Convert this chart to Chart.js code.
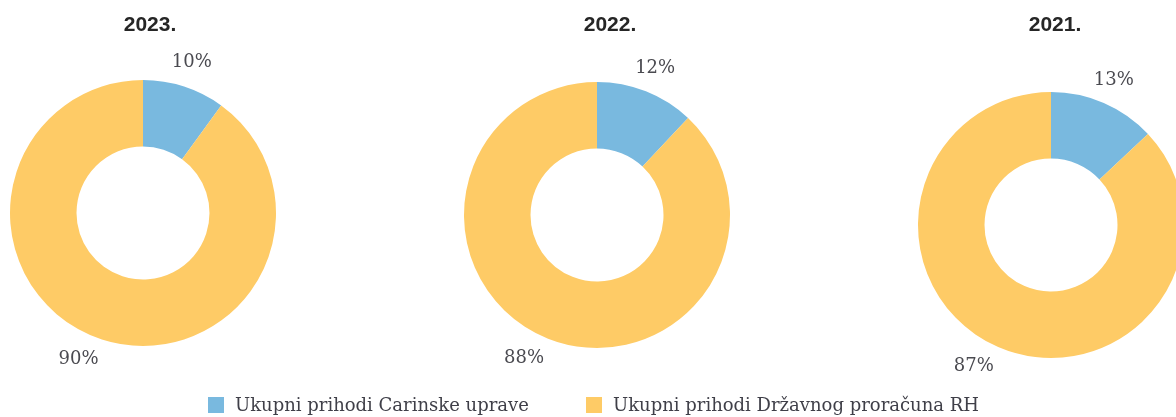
<!DOCTYPE html>
<html>
<head>
<meta charset="utf-8">
<script src="https://cdn.jsdelivr.net/npm/chart.js@4/dist/chart.umd.min.js"></script>
<style>
  html, body { margin: 0; padding: 0; background: #fff; }
  body { width: 1176px; height: 417px; position: relative; overflow: hidden; }
  .box { position: absolute; width: 360px; height: 390px; }
  .title { position: absolute; width: 120px; text-align: center; font: bold 21px "Liberation Sans", Arial, sans-serif; color: #262626; line-height: 24px; }
  .legend { position: absolute; top: 394px; font: 18px "DejaVu Serif", serif; color: #3f3f48; white-space: nowrap; }
  .legend span.sw { display: inline-block; width: 16px; height: 16px; vertical-align: -2px; margin-right: 11px; }
</style>
</head>
<body>
<script>
var years = ['2023.', '2022.', '2021.'];
var categories = ['Ukupni prihodi Carinske uprave', 'Ukupni prihodi Državnog proračuna RH'];
var customsShare = [10, 12, 13];
var budgetShare = [90, 88, 87];
var colors = ['#79b9df', '#fecb66'];

// donut centres and title centres on the page
var centres = [[143, 213], [597, 215], [1051, 225]];
var titleX = [150, 610, 1055];
var legendX = [208, 586];

var pctLabels = {
  id: 'pctLabels',
  afterDatasetsDraw: function (chart) {
    var ctx = chart.ctx;
    var meta = chart.getDatasetMeta(0);
    var data = chart.data.datasets[0].data;
    ctx.save();
    ctx.font = '18px "DejaVu Serif", serif';
    ctx.fillStyle = '#4a4a50';
    meta.data.forEach(function (arc, i) {
      var p = arc.getProps(['x', 'y', 'startAngle', 'endAngle', 'outerRadius'], true);
      var mid = (p.startAngle + p.endAngle) / 2;
      var r, x, y;
      if (Math.cos(mid) < 0) {
        // left side: box corner sits on the ring
        r = p.outerRadius + 11;
        ctx.textAlign = 'right';
        ctx.textBaseline = 'top';
      } else {
        r = p.outerRadius + 25;
        ctx.textAlign = 'center';
        ctx.textBaseline = 'middle';
      }
      x = p.x + Math.cos(mid) * r;
      y = p.y + Math.sin(mid) * r;
      ctx.fillText(data[i] + '%', x, y);
    });
    ctx.restore();
  }
};

years.forEach(function (year, k) {
  var box = document.createElement('div');
  box.className = 'box';
  box.style.left = (centres[k][0] - 180) + 'px';
  box.style.top = (centres[k][1] - 195) + 'px';
  var cv = document.createElement('canvas');
  box.appendChild(cv);
  document.body.appendChild(box);

  var t = document.createElement('div');
  t.className = 'title';
  t.textContent = year;
  t.style.left = (titleX[k] - 60) + 'px';
  t.style.top = '12px';
  document.body.appendChild(t);

  new Chart(cv, {
    type: 'doughnut',
    data: {
      labels: categories,
      datasets: [{
        data: [customsShare[k], budgetShare[k]],
        backgroundColor: colors,
        borderWidth: 0
      }]
    },
    options: {
      responsive: true,
      maintainAspectRatio: false,
      animation: false,
      cutout: '50%',
      layout: { padding: { left: 47, right: 47, top: 62, bottom: 62 } },
      plugins: {
        legend: { display: false },
        tooltip: { enabled: false }
      }
    },
    plugins: [pctLabels]
  });
});

categories.forEach(function (name, i) {
  var l = document.createElement('div');
  l.className = 'legend';
  l.style.left = legendX[i] + 'px';
  l.innerHTML = '<span class="sw" style="background:' + colors[i] + '"></span>';
  l.appendChild(document.createTextNode(name));
  document.body.appendChild(l);
});
</script>
</body>
</html>
